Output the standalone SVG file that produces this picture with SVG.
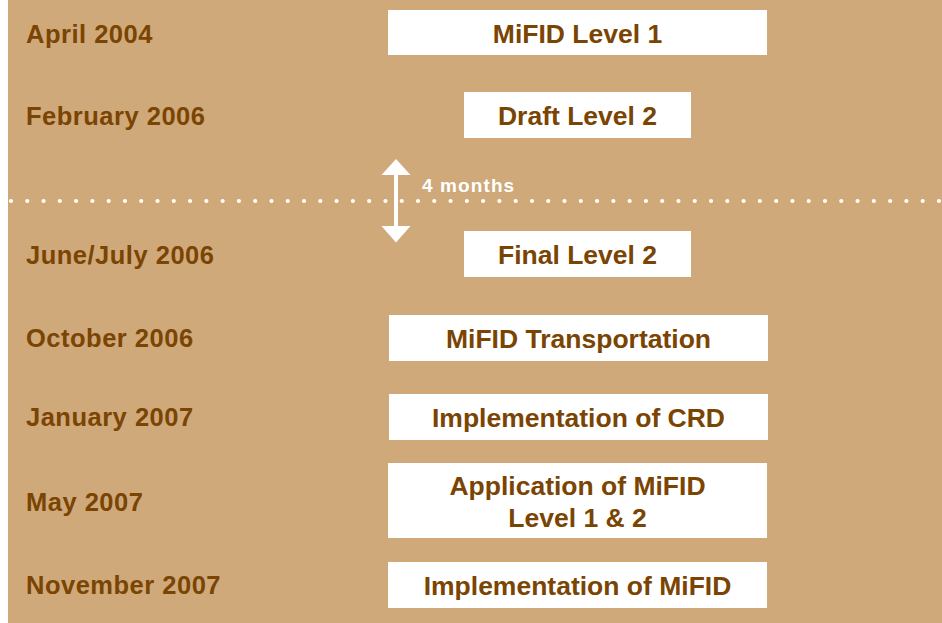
<svg xmlns="http://www.w3.org/2000/svg" width="942" height="623" viewBox="0 0 942 623">
<style>
.lbl{font-family:"Liberation Sans",Arial,sans-serif;font-weight:bold;font-size:25.5px;letter-spacing:0.5px;fill:#7a4403}
.box{fill:#ffffff}
.bt{font-family:"Liberation Sans",Arial,sans-serif;font-weight:bold;font-size:26.5px;fill:#7a4403;text-anchor:middle}
.note{font-family:"Liberation Sans",Arial,sans-serif;font-weight:bold;font-size:19px;letter-spacing:1.1px;fill:#ffffff}
</style>
<rect x="0" y="0" width="942" height="623" fill="#ffffff"/>
<rect x="8" y="0" width="934" height="623" fill="#cfa97a"/>
<g id="dates">
<text class="lbl" x="26" y="43">April 2004</text>
<text class="lbl" x="26" y="125">February 2006</text>
<text class="lbl" x="26" y="264">June/July 2006</text>
<text class="lbl" x="26" y="347">October 2006</text>
<text class="lbl" x="26" y="426">January 2007</text>
<text class="lbl" x="26" y="511">May 2007</text>
<text class="lbl" x="26" y="594">November 2007</text>
</g>
<g id="connectors">
<line x1="11" y1="201" x2="942" y2="201" stroke="#ffffff" stroke-width="4.2" stroke-linecap="round" stroke-dasharray="0 16.28"/>
<g id="arrow4m" fill="#ffffff">
<rect x="394" y="172" width="4" height="56"/>
<polygon points="396,159 410.5,175 381.5,175"/>
<polygon points="396,242.5 410.5,226 381.5,226"/>
</g>
<text class="note" x="422" y="191.5">4 months</text>
</g>
<g id="n1"><rect class="box" x="388" y="10" width="379" height="45"/><text class="bt" x="577.5" y="43">MiFID Level 1</text></g>
<g id="n2"><rect class="box" x="464" y="92" width="227" height="46"/><text class="bt" x="577.5" y="125">Draft Level 2</text></g>
<g id="n3"><rect class="box" x="464" y="231" width="227" height="46"/><text class="bt" x="577.5" y="264">Final Level 2</text></g>
<g id="n4"><rect class="box" x="389" y="315" width="379" height="46"/><text class="bt" x="578.5" y="347.5">MiFID Transportation</text></g>
<g id="n5"><rect class="box" x="389" y="394" width="379" height="46"/><text class="bt" x="578.5" y="426.5">Implementation of CRD</text></g>
<g id="n6"><rect class="box" x="388" y="463" width="379" height="75"/><text class="bt" x="577.5" y="495">Application of MiFID</text><text class="bt" x="577.5" y="527">Level 1 &amp; 2</text></g>
<g id="n7"><rect class="box" x="388" y="562" width="379" height="46"/><text class="bt" x="577.5" y="594.5">Implementation of MiFID</text></g>
</svg>
